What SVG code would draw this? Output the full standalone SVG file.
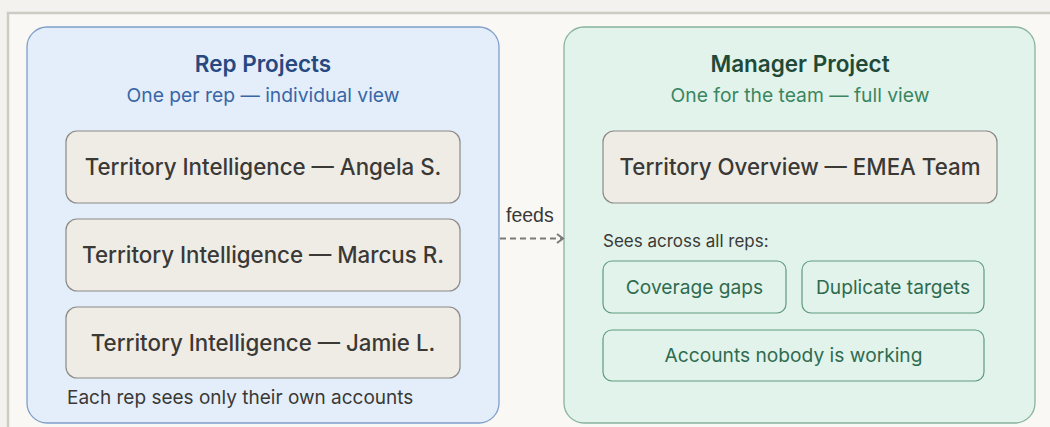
<svg xmlns="http://www.w3.org/2000/svg" width="1050" height="427" viewBox="0 0 1050 427">
  <defs>
    <style>
      .sans { font-family: Inter, "Open Sans", "Liberation Sans", sans-serif; }
      .panel-rep { fill: #e4eefa; stroke: #7f9fca; stroke-width: 1.3; }
      .panel-mgr { fill: #e2f3eb; stroke: #88b39d; stroke-width: 1.3; }
      .card { fill: #efece6; stroke: #8b8a86; stroke-width: 1.2; }
      .chip { fill: #e2f3eb; stroke: #5e9c7e; stroke-width: 1.2; }
      .title-rep { fill: #27497f; font-size: 22.5px; font-weight: 600; text-anchor: middle; }
      .sub-rep { fill: #3866a6; font-size: 19.3px; text-anchor: middle; }
      .title-mgr { fill: #1f4a38; font-size: 22.5px; font-weight: 600; text-anchor: middle; }
      .sub-mgr { fill: #3a8660; font-size: 19.3px; text-anchor: middle; }
      .card-text { fill: #3a3936; font-size: 22.3px; font-weight: 500; text-anchor: middle; }
      .note { fill: #3a3936; font-size: 17px; }
      .note-lg { fill: #3a3936; font-size: 19px; }
      .chip-text { fill: #2f6b4f; font-size: 19.2px; text-anchor: middle; }
      .edge-label { fill: #3a3936; font-family: "Liberation Sans", Arial, sans-serif; font-size: 19.5px; }
      .edge { fill: none; stroke: #7a7a78; stroke-width: 2; }
    </style>
    <marker id="chevron" markerWidth="10" markerHeight="12" refX="8" refY="6" orient="auto" markerUnits="userSpaceOnUse">
      <path d="M2,1.5 L8,6 L2,10.5" fill="none" stroke="#7a7a78" stroke-width="2"/>
    </marker>
  </defs>

  <!-- page background and frame -->
  <rect x="0" y="0" width="1050" height="427" fill="#f3f2ee"/>
  <rect x="8" y="13" width="1060" height="430" fill="#f9f8f5" stroke="#cdcbc4" stroke-width="2.5"/>

  <!-- rep projects panel -->
  <g id="rep-projects" class="sans">
    <rect class="panel-rep" x="27" y="27" width="472" height="396" rx="20"/>
    <text class="title-rep" x="263" y="72">Rep Projects</text>
    <text class="sub-rep" x="263" y="102">One per rep — individual view</text>
  </g>

  <g id="rep-angela" class="sans">
    <rect class="card" x="66" y="131" width="394" height="72" rx="11"/>
    <text class="card-text" x="263" y="175">Territory Intelligence — Angela S.</text>
  </g>

  <g id="rep-marcus" class="sans">
    <rect class="card" x="66" y="219" width="394" height="72" rx="11"/>
    <text class="card-text" x="263" y="263">Territory Intelligence — Marcus R.</text>
  </g>

  <g id="rep-jamie" class="sans">
    <rect class="card" x="66" y="307" width="394" height="71" rx="11"/>
    <text class="card-text" x="263" y="351">Territory Intelligence — Jamie L.</text>
  </g>

  <g id="rep-note" class="sans">
    <text class="note-lg" x="67" y="404">Each rep sees only their own accounts</text>
  </g>

  <!-- manager project panel -->
  <g id="manager-project" class="sans">
    <rect class="panel-mgr" x="564" y="27" width="471" height="396" rx="20"/>
    <text class="title-mgr" x="800" y="72">Manager Project</text>
    <text class="sub-mgr" x="800" y="102">One for the team — full view</text>
  </g>

  <g id="manager-overview" class="sans">
    <rect class="card" x="603" y="131" width="394" height="72" rx="11"/>
    <text class="card-text" x="800" y="175">Territory Overview — EMEA Team</text>
  </g>

  <g id="manager-note" class="sans">
    <text class="note" x="603" y="247">Sees across all reps:</text>
  </g>

  <g id="coverage-gaps" class="sans">
    <rect class="chip" x="603" y="261" width="183" height="52" rx="9"/>
    <text class="chip-text" x="694.5" y="294">Coverage gaps</text>
  </g>

  <g id="duplicate-targets" class="sans">
    <rect class="chip" x="802" y="261" width="182" height="52" rx="9"/>
    <text class="chip-text" x="893" y="294">Duplicate targets</text>
  </g>

  <g id="accounts-unworked" class="sans">
    <rect class="chip" x="603" y="330" width="381" height="51" rx="9"/>
    <text class="chip-text" x="793.5" y="362">Accounts nobody is working</text>
  </g>

  <!-- connectors -->
  <g id="connectors">
    <path class="edge" d="M500,238.5 L563,238.5" stroke-dasharray="6 4" marker-end="url(#chevron)"/>
    <text class="edge-label" x="506" y="222">feeds</text>
  </g>
</svg>
